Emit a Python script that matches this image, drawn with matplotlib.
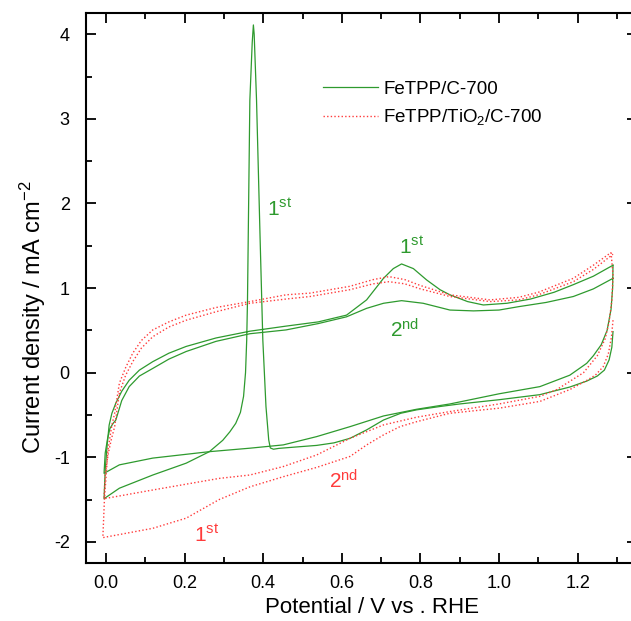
import matplotlib
matplotlib.use("Agg")
import matplotlib.pyplot as plt
from matplotlib.ticker import MultipleLocator

plt.rcParams['font.family'] = ['Liberation Sans', 'DejaVu Sans']
plt.rcParams['mathtext.fontset'] = 'custom'
plt.rcParams['mathtext.rm'] = 'Liberation Sans'
plt.rcParams['mathtext.it'] = 'Liberation Sans:italic'
plt.rcParams['mathtext.bf'] = 'Liberation Sans:bold'

GREEN = '#2e9a2e'
RED = '#ff3b3b'

# ---- FeTPP/C-700 : cycle 1 (scan order: cathodic with spike, then anodic) ----
g1_cath_V = [1.29, 1.287, 1.28, 1.268, 1.25, 1.223, 1.18, 1.104, 1.0, 0.90, 0.85, 0.79, 0.75, 0.706, 0.663,
             0.621, 0.58, 0.536, 0.48, 0.44, 0.426, 0.418, 0.414, 0.407, 0.399, 0.392, 0.383, 0.377, 0.375,
             0.372, 0.366, 0.363, 0.36, 0.358, 0.355, 0.35, 0.342, 0.33, 0.315, 0.297, 0.263, 0.204, 0.119,
             0.034, -0.005]
g1_cath_I = [0.485, 0.30, 0.15, 0.03, -0.04, -0.10, -0.17, -0.26, -0.32, -0.37, -0.40, -0.44, -0.48, -0.56,
             -0.677, -0.776, -0.83, -0.86, -0.88, -0.895, -0.905, -0.89, -0.795, -0.40, 0.386, 1.6, 3.22, 4.0,
             4.11, 3.9, 3.22, 2.04, 0.86, 0.386, 0.0, -0.28, -0.47, -0.6, -0.7, -0.80, -0.934, -1.07, -1.21,
             -1.366, -1.49]
g1_anod_V = [-0.005, -0.002, 0.003, 0.008, 0.015, 0.025, 0.04, 0.059, 0.085, 0.119, 0.16, 0.204, 0.28, 0.366,
             0.458, 0.54, 0.612, 0.663, 0.706, 0.731, 0.752, 0.782, 0.816, 0.85, 0.875, 0.92, 0.96, 1.02,
             1.08, 1.14, 1.189, 1.24, 1.29]
g1_anod_I = [-1.49, -1.15, -0.85, -0.62, -0.48, -0.36, -0.22, -0.09, 0.03, 0.13, 0.23, 0.31, 0.41, 0.49,
             0.55, 0.60, 0.68, 0.86, 1.115, 1.23, 1.285, 1.23, 1.095, 0.98, 0.92, 0.84, 0.80, 0.82,
             0.87, 0.95, 1.04, 1.14, 1.27]

# ---- FeTPP/C-700 : cycle 2 ----
g2_cath_V = [1.29, 1.289, 1.285, 1.275, 1.26, 1.24, 1.223, 1.18, 1.104, 1.0, 0.875, 0.79, 0.706, 0.621,
             0.536, 0.451, 0.366, 0.263, 0.119, 0.034, -0.005]
g2_cath_I = [1.27, 1.0, 0.75, 0.50, 0.33, 0.20, 0.11, -0.03, -0.165, -0.25, -0.37, -0.433, -0.512, -0.638,
             -0.756, -0.854, -0.893, -0.934, -1.01, -1.09, -1.19]
g2_anod_V = [-0.005, -0.002, 0.004, 0.01, 0.018, 0.025, 0.04, 0.059, 0.085, 0.119, 0.16, 0.204, 0.28, 0.366,
             0.458, 0.54, 0.612, 0.663, 0.706, 0.752, 0.807, 0.875, 0.935, 1.0, 1.05, 1.12, 1.189, 1.24, 1.29]
g2_anod_I = [-1.19, -0.95, -0.78, -0.66, -0.6, -0.56, -0.33, -0.165, -0.04, 0.05, 0.16, 0.25, 0.37, 0.46,
             0.505, 0.58, 0.66, 0.76, 0.82, 0.851, 0.82, 0.74, 0.73, 0.74, 0.78, 0.83, 0.90, 0.99, 1.115]

# ---- FeTPP/TiO2/C-700 : cycle 1 ----
r1_cath_V = [1.29, 1.286, 1.278, 1.265, 1.245, 1.22, 1.18, 1.104, 1.0, 0.875, 0.79, 0.748, 0.706, 0.663,
             0.621, 0.536, 0.451, 0.366, 0.288, 0.204, 0.119, -0.008]
r1_cath_I = [0.62, 0.42, 0.22, 0.07, -0.03, -0.10, -0.2, -0.34, -0.42, -0.48, -0.58, -0.638, -0.736, -0.855,
             -0.99, -1.12, -1.23, -1.35, -1.5, -1.72, -1.84, -1.95]
r1_anod_V = [-0.008, -0.004, 0.005, 0.015, 0.022, 0.034, 0.05, 0.068, 0.09, 0.119, 0.16, 0.204, 0.28, 0.366,
             0.458, 0.519, 0.62, 0.68, 0.72, 0.76, 0.8, 0.875, 0.977, 1.05, 1.1, 1.189, 1.24, 1.285]
r1_anod_I = [-1.95, -1.5, -0.91, -0.62, -0.48, -0.125, 0.06, 0.23, 0.38, 0.505, 0.60, 0.68, 0.77, 0.84,
             0.92, 0.94, 1.02, 1.10, 1.135, 1.10, 1.03, 0.92, 0.86, 0.89, 0.95, 1.115, 1.27, 1.42]

# ---- FeTPP/TiO2/C-700 : cycle 2 ----
r2_cath_V = [1.285, 1.29, 1.287, 1.28, 1.27, 1.25, 1.215, 1.147, 1.104, 1.0, 0.875, 0.79, 0.706, 0.621,
             0.536, 0.451, 0.366, 0.288, 0.119, -0.005]
r2_cath_I = [1.42, 1.15, 0.85, 0.6, 0.4, 0.2, 0.0, -0.2, -0.28, -0.37, -0.46, -0.527, -0.618, -0.776,
             -0.973, -1.11, -1.21, -1.25, -1.387, -1.49]
r2_anod_V = [-0.005, -0.002, 0.006, 0.014, 0.022, 0.034, 0.05, 0.068, 0.09, 0.119, 0.16, 0.204, 0.28, 0.366,
             0.458, 0.519, 0.62, 0.68, 0.72, 0.76, 0.8, 0.875, 0.977, 1.05, 1.1, 1.189, 1.24, 1.29]
r2_anod_I = [-1.49, -1.2, -0.95, -0.78, -0.64, -0.24, -0.03, 0.13, 0.29, 0.425, 0.54, 0.62, 0.72, 0.82,
             0.87, 0.90, 0.98, 1.05, 1.075, 1.05, 0.99, 0.90, 0.84, 0.86, 0.92, 1.075, 1.22, 1.40]

legend_labels = ['FeTPP/C-700', 'FeTPP/TiO$_2$/C-700']
xticks = [0.0, 0.2, 0.4, 0.6, 0.8, 1.0, 1.2]
yticks = [-2, -1, 0, 1, 2, 3, 4]

fig = plt.figure(figsize=(6.31, 6.21), dpi=100)
ax = fig.add_axes([86.35 / 631, 58 / 621, 550.25 / 631, 549.9 / 621])

lw = 0.9
dots = (0, (1, 1.6))
ax.plot(g1_cath_V + g1_anod_V, g1_cath_I + g1_anod_I, color=GREEN, lw=lw, label=legend_labels[0])
ax.plot(g2_cath_V + g2_anod_V, g2_cath_I + g2_anod_I, color=GREEN, lw=lw)
ax.plot(r1_cath_V + r1_anod_V, r1_cath_I + r1_anod_I, color=RED, lw=1.0, ls=dots, label=legend_labels[1])
ax.plot(r2_cath_V + r2_anod_V, r2_cath_I + r2_anod_I, color=RED, lw=1.0, ls=dots)

ax.set_xlim(-0.05, 1.35)
ax.set_ylim(-2.25, 4.25)
ax.set_xticks(xticks)
ax.set_xticklabels([f'{t:.1f}' for t in xticks])
ax.set_yticks(yticks)
ax.set_yticklabels([f'{t}' for t in yticks])
ax.xaxis.set_minor_locator(MultipleLocator(0.1))
ax.yaxis.set_minor_locator(MultipleLocator(0.5))
ax.tick_params(which='both', direction='in', top=True, right=True, width=1.3, labelsize=13)
ax.tick_params(axis='x', which='both', pad=9)
ax.tick_params(axis='y', which='both', pad=12)
ax.tick_params(which='major', length=7.5)
ax.tick_params(which='minor', length=4.5)
for s in ax.spines.values():
    s.set_linewidth(1.5)

ax.set_xlabel('Potential / V vs . RHE', fontsize=16)
ax.set_ylabel('Current density / mA cm$^{-2}$', fontsize=17)
ax.xaxis.set_label_coords(0.519, -0.062)
ax.yaxis.set_label_coords(-0.07, 0.447)

leg = ax.legend(loc='upper left', bbox_to_anchor=(0.40, 0.908), frameon=False, fontsize=13.5,
                handlelength=2.9, handletextpad=0.3, labelspacing=0.5)

ax.text(0.41, 1.85, '1$^{\\rm st}$', color=GREEN, fontsize=15)
ax.text(0.745, 1.4, '1$^{\\rm st}$', color=GREEN, fontsize=15)
ax.text(0.723, 0.42, '2$^{\\rm nd}$', color=GREEN, fontsize=15)
ax.text(0.567, -1.37, '2$^{\\rm nd}$', color=RED, fontsize=15)
ax.text(0.225, -2.0, '1$^{\\rm st}$', color=RED, fontsize=15)

fig.savefig('out.png', dpi=100)
